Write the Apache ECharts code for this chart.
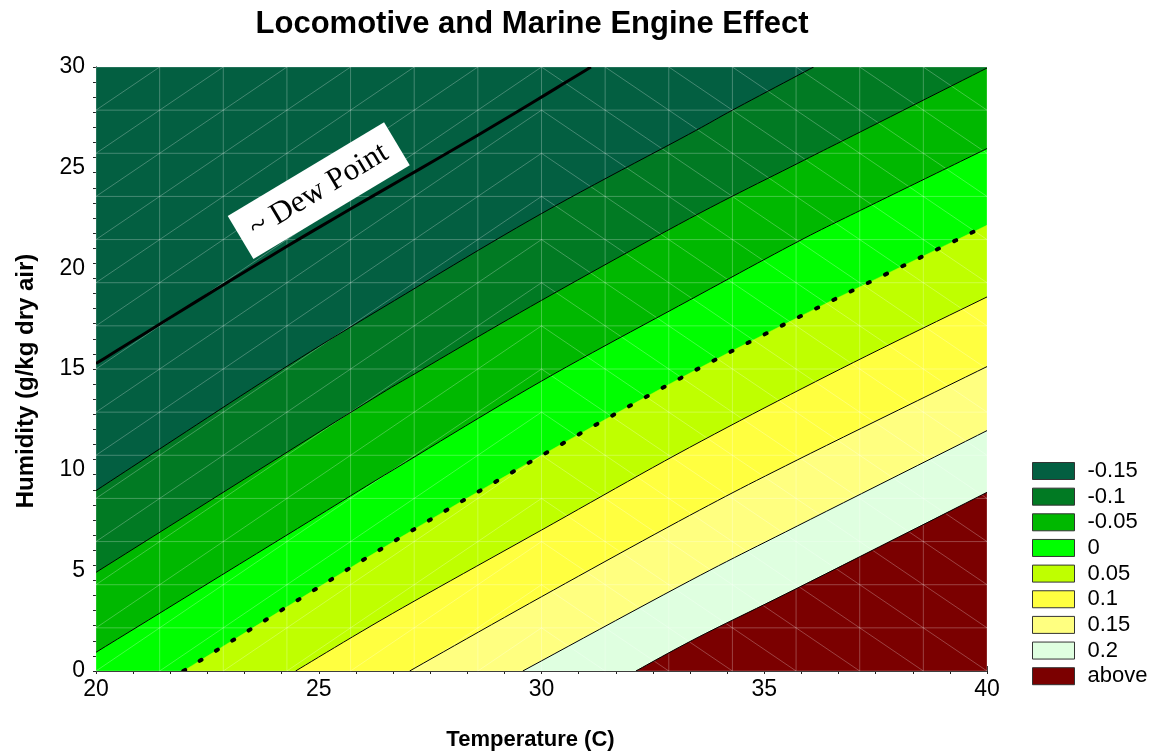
<!DOCTYPE html>
<html>
<head>
<meta charset="utf-8">
<script src="https://cdn.jsdelivr.net/npm/echarts@6/dist/echarts.min.js"></script>
<style>
  html, body { margin: 0; padding: 0; background: #ffffff; }
  #chart { width: 1155px; height: 751px; }
</style>
</head>
<body>
<div id="chart"></div>
<script>
// Axis extents and tick labels
const temperatureRange = [20, 40];
const humidityRange = [0, 30];
const xTickLabels = [20, 25, 30, 35, 40];
const yTickLabels = [0, 5, 10, 15, 20, 25, 30];

// Fill levels (legend order) and their colours
const levelNames = ['-0.15', '-0.1', '-0.05', '0', '0.05', '0.1', '0.15', '0.2', 'above'];
const levelColors = ['#035f41', '#017a23', '#00b800', '#00ff00', '#bfff00', '#ffff40', '#ffff80', '#dfffe0', '#7b0000'];

// Isolines as [temperature, humidity], running from the left/bottom edge to the top/right edge
const contourMinus015 = [[20, 8.96], [21.43, 11.03], [24.19, 15.0], [26.7, 18.4], [30, 22.72], [33.3, 26.65], [34.28, 27.85], [36.11, 30]];
const contourMinus010 = [[20, 4.9], [25.72, 12.85], [27.34, 15.0], [30, 18.41], [33.32, 22.47], [35.74, 25.2], [37.16, 26.78], [40, 29.95]];
const contourMinus005 = [[20, 0.93], [24.26, 6.72], [26.7, 10.03], [30, 14.4], [33.32, 18.42], [35.74, 21.31], [37.16, 22.88], [38.62, 24.46], [40, 25.95]];
const contourZero     = [[21.96, 0], [26.47, 6.15], [29.84, 10.5], [33.2, 14.64], [36.23, 18.08], [40, 22.14]];
const contourPlus005  = [[24.48, 0], [26.65, 2.85], [30, 7.0], [33.32, 11.1], [36.71, 15.0], [40, 18.58]];
const contourPlus010  = [[27.04, 0], [30, 3.69], [33.32, 7.72], [35.74, 10.48], [40, 15.12]];
const contourPlus015  = [[29.58, 0], [33.32, 4.47], [35.74, 7.2], [40, 11.94]];
const contourPlus020  = [[32.12, 0], [33.54, 1.7], [35.74, 4.11], [40, 8.87]];

// Approximate dew point curve and its label anchor
const dewPointLine = [[20, 15.27], [24.26, 21.06], [28.57, 26.61], [31.11, 30]];
const dewPointLabel = { text: '~ Dew Point', at: [25.0, 23.86] };

// Triangulation mesh: 14 x 14 cells, diagonals flip direction at this temperature
const meshDivisions = 14;
const meshFlipTemperature = 30;

// Lower boundary of each fill level (null = whole plot area)
const levelBoundaries = [null, contourMinus015, contourMinus010, contourMinus005, contourZero,
  contourPlus005, contourPlus010, contourPlus015, contourPlus020];

const [T0, T1] = temperatureRange;
const [H0, H1] = humidityRange;

// Catmull-Rom curve through pixel points, so isolines and fills bend smoothly
function smoothPath(pts, steps) {
  steps = steps || 12;
  if (pts.length < 3) return pts.slice();
  const out = [];
  for (let i = 0; i < pts.length - 1; i++) {
    const p0 = pts[Math.max(i - 1, 0)], p1 = pts[i], p2 = pts[i + 1], p3 = pts[Math.min(i + 2, pts.length - 1)];
    for (let s = 0; s < steps; s++) {
      const t = s / steps, t2 = t * t, t3 = t2 * t;
      out.push([0, 1].map(d => 0.5 * ((2 * p1[d]) + (-p0[d] + p2[d]) * t +
        (2 * p0[d] - 5 * p1[d] + 4 * p2[d] - p3[d]) * t2 +
        (-p0[d] + 3 * p1[d] - 3 * p2[d] + p3[d]) * t3)));
    }
  }
  out.push(pts[pts.length - 1]);
  return out;
}

// Pixel outline of the warm/dry side of an isoline, closed along the plot border
function regionOutline(line, api) {
  const toPx = p => api.coord(p);
  if (!line) return [[T0, H0], [T0, H1], [T1, H1], [T1, H0]].map(toPx);
  const pts = smoothPath(line.map(toPx));
  const first = line[0], last = line[line.length - 1];
  if (last[0] < T1) pts.push(toPx([T1, H1]));
  pts.push(toPx([T1, H0]));
  if (first[1] > H0) pts.push(toPx([T0, H0]));
  return pts;
}

const FONT = '"Liberation Sans", Arial, sans-serif';

const fillSeries = levelNames.map((name, k) => ({
  type: 'custom',
  name: name,
  xAxisIndex: 0,
  yAxisIndex: 0,
  silent: true,
  clip: true,
  z: 1,
  itemStyle: { color: levelColors[k] },
  data: [[T0, H0]],
  renderItem: (params, api) => ({
    type: 'polygon',
    shape: { points: regionOutline(levelBoundaries[k], api) },
    style: { fill: levelColors[k], stroke: levelColors[k], lineWidth: 0.5 }
  })
}));

const meshSeries = {
  type: 'custom',
  xAxisIndex: 2,
  yAxisIndex: 2,
  silent: true,
  z: 2,
  data: [[0, 0]],
  renderItem: (params, api) => {
    const n = meshDivisions;
    const flipCol = (meshFlipTemperature - T0) / (T1 - T0) * n;
    const children = [];
    const seg = (a, b) => {
      const p = api.coord(a), q = api.coord(b);
      children.push({
        type: 'line',
        shape: { x1: p[0], y1: p[1], x2: q[0], y2: q[1] },
        style: { stroke: 'rgba(255,255,255,0.26)', lineWidth: 1 }
      });
    };
    for (let i = 0; i <= n; i++) {
      seg([i, 0], [i, n]);
      seg([0, i], [n, i]);
    }
    for (let i = 0; i < n; i++) {
      for (let j = 0; j < n; j++) {
        if (i < flipCol) seg([i, j], [i + 1, j + 1]);
        else seg([i, j + 1], [i + 1, j]);
      }
    }
    return { type: 'group', children };
  }
};

// Curve series drawn through the same smoothing as the fills
function curveSeries(line, lineStyle, z) {
  return {
    type: 'custom',
    xAxisIndex: 0,
    yAxisIndex: 0,
    silent: true,
    clip: true,
    z: z,
    data: [[T0, H0]],
    renderItem: (params, api) => ({
      type: 'polyline',
      shape: { points: smoothPath(line.map(p => api.coord(p))) },
      style: Object.assign({ fill: null }, lineStyle)
    })
  };
}

const isolines = [contourMinus015, contourMinus010, contourMinus005, contourPlus005,
  contourPlus010, contourPlus015, contourPlus020];

const lineSeries = isolines.map(line => curveSeries(line, { stroke: '#000', lineWidth: 1 }, 3));
lineSeries.push(curveSeries(contourZero,
  { stroke: '#000', lineWidth: 4, lineDash: [2.2, 17], lineCap: 'round' }, 3));
lineSeries.push(curveSeries(dewPointLine, { stroke: '#000', lineWidth: 3 }, 4));

const frameTickAxis = {
  axisLine: { show: true, lineStyle: { color: '#222', width: 1 } },
  axisTick: { show: true, inside: true, length: 3, lineStyle: { color: '#222' } },
  axisLabel: { show: false },
  splitLine: { show: false }
};

const option = {
  animation: false,
  backgroundColor: '#ffffff',
  title: {
    text: 'Locomotive and Marine Engine Effect',
    left: 527,
    top: 4,
    textAlign: 'center',
    textStyle: { fontFamily: FONT, fontSize: 31, fontWeight: 'bold', color: '#000' }
  },
  grid: { left: 96, right: 168, top: 67, bottom: 80, containLabel: false, outerBoundsMode: 'none' },
  legend: {
    data: levelNames,
    orient: 'vertical',
    left: 1032,
    top: 460,
    padding: 0,
    itemWidth: 42,
    itemHeight: 17,
    itemGap: 3.65,
    icon: 'rect',
    selectedMode: false,
    itemStyle: { borderColor: '#333', borderWidth: 1 },
    textStyle: { fontFamily: FONT, fontSize: 22, color: '#000', padding: [0, 0, 0, 8] }
  },
  xAxis: [
    {
      type: 'value',
      position: 'bottom',
      min: T0, max: T1, interval: xTickLabels[1] - xTickLabels[0],
      name: 'Temperature (C)',
      nameLocation: 'middle',
      nameGap: 58,
      nameTextStyle: { fontFamily: FONT, fontSize: 22, fontWeight: 'bold', color: '#000', padding: [0, 22, 0, 0] },
      axisLine: { show: true, lineStyle: { color: '#222', width: 1 } },
      axisTick: { show: true, inside: true, length: 5, lineStyle: { color: '#222' } },
      minorTick: { show: true, splitNumber: 5, length: 3, lineStyle: { color: '#222' } },
      axisLabel: { fontFamily: FONT, fontSize: 23, color: '#000', margin: 7,
        formatter: v => (xTickLabels.includes(v) ? String(v) : '') },
      splitLine: { show: false }
    },
    Object.assign({ type: 'value', position: 'top', min: 0, max: 24, interval: 1 }, frameTickAxis),
    { type: 'value', min: 0, max: meshDivisions, show: false }
  ],
  yAxis: [
    {
      type: 'value',
      position: 'left',
      min: H0, max: H1, interval: yTickLabels[1] - yTickLabels[0],
      name: 'Humidity (g/kg dry air)',
      nameLocation: 'middle',
      nameGap: 58,
      nameTextStyle: { fontFamily: FONT, fontSize: 24, fontWeight: 'bold', color: '#000', padding: [0, 24, 0, 0] },
      axisLine: { show: true, lineStyle: { color: '#222', width: 1 } },
      axisTick: { show: true, inside: true, length: 5, lineStyle: { color: '#222' } },
      minorTick: { show: true, splitNumber: 5, length: 3, lineStyle: { color: '#222' } },
      axisLabel: { fontFamily: FONT, fontSize: 23, color: '#000', margin: 11,
        formatter: v => (yTickLabels.includes(v) ? String(v) : '') },
      splitLine: { show: false }
    },
    Object.assign({ type: 'value', position: 'right', min: 0, max: 40, interval: 1 }, frameTickAxis),
    { type: 'value', min: 0, max: meshDivisions, show: false }
  ],
  series: [...fillSeries, meshSeries, ...lineSeries]
};

const chart = echarts.init(document.getElementById('chart'), null, { renderer: 'canvas' });
chart.setOption(option);

// Rotated label sitting just above the dew point line
const anchor = chart.convertToPixel({ gridIndex: 0 }, dewPointLabel.at);
const p0 = chart.convertToPixel({ gridIndex: 0 }, dewPointLine[0]);
const p1 = chart.convertToPixel({ gridIndex: 0 }, dewPointLine[dewPointLine.length - 1]);
const angle = Math.atan2(p0[1] - p1[1], p1[0] - p0[0]);
chart.setOption({
  graphic: [{
    type: 'text',
    x: anchor[0],
    y: anchor[1],
    rotation: angle,
    z: 10,
    style: {
      text: dewPointLabel.text,
      font: '31px "Liberation Serif", "Times New Roman", serif',
      fill: '#000',
      align: 'center',
      verticalAlign: 'middle',
      backgroundColor: '#ffffff',
      padding: [10, 13, 9, 13]
    }
  }]
});
</script>
</body>
</html>
